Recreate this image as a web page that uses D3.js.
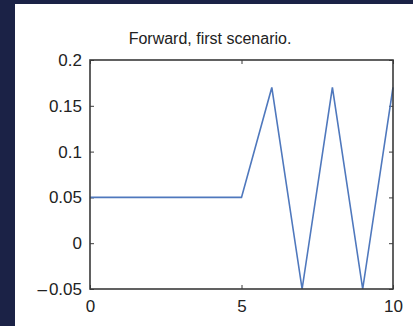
<!DOCTYPE html>
<html>
<head>
<meta charset="utf-8">
<script src="https://cdn.jsdelivr.net/npm/d3@7"></script>
<style>
  html, body { margin: 0; padding: 0; background: #1b2246; }
  svg { display: block; }
  text { font-family: "Liberation Sans", Arial, Helvetica, sans-serif; fill: #222; }
</style>
</head>
<body>
<svg id="chart" width="413" height="326"></svg>
<script>
// Forward signal, first scenario: value at each integer time step
const times  = [0, 1, 2, 3, 4, 5, 6, 7, 8, 9, 10];
const values = [0.05, 0.05, 0.05, 0.05, 0.05, 0.05, 0.17, -0.05, 0.17, -0.05, 0.17];
const xTicks = [0, 5, 10];
const yTicks = [-0.05, 0, 0.05, 0.1, 0.15, 0.2];
const title = "Forward, first scenario.";

const svg = d3.select("#chart");

// white figure panel
svg.append("rect").attr("x", 15).attr("y", 4).attr("width", 398).attr("height", 322).attr("fill", "#fff");

const plot = { left: 90, right: 393, top: 60, bottom: 289 };
const x = d3.scaleLinear().domain([0, 10]).range([plot.left, plot.right]);
const y = d3.scaleLinear().domain([-0.05, 0.2]).range([plot.bottom, plot.top]);

const axisColor = "#3a3a3a";
const tickLen = 4;
const fontSize = 17;

// axes: labels outside, ticks pointing inward
const xAxis = d3.axisBottom(x).tickValues(xTicks).tickSize(-tickLen).tickPadding(11).tickFormat(d3.format("d"));
const yAxis = d3.axisLeft(y).tickValues(yTicks).tickSize(-tickLen).tickPadding(8).tickFormat("");
const xTop = d3.axisTop(x).tickValues(xTicks).tickSize(-tickLen).tickFormat("");
const yRight = d3.axisRight(y).tickValues(yTicks).tickSize(-tickLen).tickFormat("");

function style(g) {
  g.select(".domain").remove();
  g.selectAll(".tick line").attr("stroke", axisColor).attr("stroke-width", 1);
  g.selectAll(".tick text").attr("font-size", fontSize).attr("fill", "#222");
}

svg.append("g").attr("transform", `translate(0,${plot.bottom})`).call(xAxis).call(style);
const gy = svg.append("g").attr("transform", `translate(${plot.left},0)`).call(yAxis).call(style);

// y tick labels with a long minus sign set slightly apart from the digits
gy.selectAll(".tick").each(function(d) {
  const t = d3.select(this).select("text");
  t.text(null);
  const mag = d3.format("")(Math.abs(d));
  if (d < 0) {
    t.append("tspan").text("\u2013");
    t.append("tspan").attr("dx", 2).text(mag);
  } else {
    t.text(mag);
  }
});

svg.append("g").attr("transform", `translate(0,${plot.top})`).call(xTop).call(style);
svg.append("g").attr("transform", `translate(${plot.right},0)`).call(yRight).call(style);

// series line
const line = d3.line().x((d, i) => x(times[i])).y(d => y(d));
svg.append("path").datum(values)
  .attr("d", line)
  .attr("fill", "none")
  .attr("stroke", "#4f78bd")
  .attr("stroke-width", 1.6)
  .attr("stroke-linejoin", "miter");

// plot box
svg.append("rect")
  .attr("x", plot.left).attr("y", plot.top)
  .attr("width", plot.right - plot.left).attr("height", plot.bottom - plot.top)
  .attr("fill", "none").attr("stroke", axisColor).attr("stroke-width", 1.6);

// title
svg.append("text")
  .attr("x", 210).attr("y", 44)
  .attr("text-anchor", "middle").attr("font-size", 16)
  .text(title);
</script>
</body>
</html>
